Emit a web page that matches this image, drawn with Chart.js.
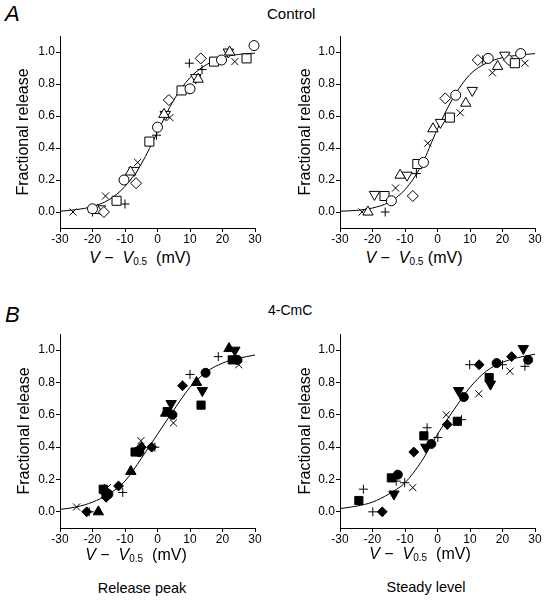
<!DOCTYPE html>
<html lang="en">
<head>
<meta charset="utf-8">
<title>Fractional release vs V - V0.5</title>
<script src="https://cdn.jsdelivr.net/npm/chart.js@4.4.1/dist/chart.umd.min.js"></script>
<style>
  * { margin: 0; padding: 0; box-sizing: border-box; }
  body {
    width: 549px; height: 602px; position: relative; overflow: hidden;
    background: #fff; color: #000;
    font-family: "Liberation Sans", Arial, sans-serif;
  }
  canvas { position: absolute; }
  .lbl { position: absolute; white-space: nowrap; line-height: 1; }
  .letter { font-style: italic; font-size: 22px; }
  .head { font-size: 15px; }
  .xtitle { font-size: 16px; width: 160px; text-align: center; }
  .xtitle sub { font-size: 10px; vertical-align: -2px; }
  .foot { font-size: 14.5px; width: 140px; text-align: center; }
</style>
</head>
<body>
  <div class="lbl letter" style="left:5px; top:3px;">A</div>
  <div class="lbl head" style="left:267px; top:6px;">Control</div>
  <div class="lbl letter" style="left:5px; top:304px;">B</div>
  <div class="lbl head" style="left:268px; top:303px; font-size:14px;">4-CmC</div>

  <canvas id="ctlPeak" width="270" height="228" style="left:0; top:20px;"></canvas>
  <canvas id="ctlSteady" width="269" height="228" style="left:280px; top:20px;"></canvas>
  <canvas id="cmcPeak" width="270" height="230" style="left:0; top:318px;"></canvas>
  <canvas id="cmcSteady" width="269" height="230" style="left:280px; top:318px;"></canvas>

  <div class="lbl xtitle" style="left:60px; top:250px;"><i>V</i> &minus;&nbsp; <i>V</i><sub>0.5</sub>&nbsp; (mV)</div>
  <div class="lbl xtitle" style="left:334px; top:250px;"><i>V</i> &minus;&nbsp; <i>V</i><sub>0.5</sub> (mV)</div>
  <div class="lbl xtitle" style="left:56px; top:547px;"><i>V</i> &minus;&nbsp; <i>V</i><sub>0.5</sub>&nbsp; (mV)</div>
  <div class="lbl xtitle" style="left:340px; top:546px;"><i>V</i> &minus;&nbsp; <i>V</i><sub>0.5</sub>&nbsp; (mV)</div>

  <div class="lbl foot" style="left:72px; top:581px;">Release peak</div>
  <div class="lbl foot" style="left:356px; top:580px;">Steady level</div>

<script>
  // x ticks / y ticks
  const xTicks = [-30, -20, -10, 0, 10, 20, 30];
  const yTicks = [0, 0.2, 0.4, 0.6, 0.8, 1.0];

  // voltages at which the fitted curves were read
  const curveV = [-30, -25, -20, -15, -10, -5, 0, 5, 10, 15, 20, 25, 30];

  // Control, release peak (open symbols) [V - V0.5, fraction]
  const ctlPeakCircle = [[-20, 0.02], [-10.3, 0.2], [0, 0.53], [10, 0.77], [19.7, 0.95], [29.7, 1.04]];
  const ctlPeakSquare = [[-12.6, 0.07], [-2.5, 0.44], [7.4, 0.76], [17.4, 0.94], [27.4, 0.96]];
  const ctlPeakDiamond = [[-16.5, 0.0], [-6.6, 0.18], [3.5, 0.7], [13.3, 0.96]];
  const ctlPeakUp = [[-18.5, 0.01], [-8.3, 0.25], [2.0, 0.61], [12.5, 0.83], [22.2, 1.0]];
  const ctlPeakDown = [[-17.6, 0.02], [-7.2, 0.26], [2.4, 0.61], [11.8, 0.84], [21.8, 1.0]];
  const ctlPeakPlus = [[-20, 0.0], [-10, 0.05], [-0.3, 0.48], [9.8, 0.93], [13.7, 0.89]];
  const ctlPeakCross = [[-26, 0.0], [-16, 0.1], [-6.1, 0.31], [3.8, 0.59], [23.8, 0.94]];
  const ctlPeakCurve = [0.005, 0.015, 0.034, 0.076, 0.16, 0.3, 0.5, 0.7, 0.84, 0.92, 0.965, 0.985, 0.993];

  // Control, steady level
  const ctlSteadyCircle = [[-14.2, 0.07], [-4.3, 0.31], [5.6, 0.73], [15.6, 0.96], [25.6, 0.99]];
  const ctlSteadySquare = [[-16.3, 0.1], [-6.2, 0.3], [3.8, 0.59], [23.8, 0.93]];
  const ctlSteadyDiamond = [[-7.6, 0.1], [2.4, 0.71], [12.4, 0.95], [22, 0.95]];
  const ctlSteadyUp = [[-21.4, 0.0], [-11.5, 0.23], [-1.4, 0.52], [8.7, 0.68], [18.5, 0.91]];
  const ctlSteadyDown = [[-19.4, 0.11], [-9.4, 0.23], [0.9, 0.56], [10.7, 0.76], [20.7, 0.98]];
  const ctlSteadyPlus = [[-16.1, 0.0], [-6.5, 0.24], [13.9, 0.95]];
  const ctlSteadyCross = [[-23.2, 0.0], [-12.9, 0.15], [-3.0, 0.43], [7.0, 0.62], [16.9, 0.87], [26.9, 0.93]];
  const ctlSteadyCurve = [0.005, 0.01, 0.025, 0.06, 0.14, 0.29, 0.52, 0.72, 0.86, 0.93, 0.965, 0.98, 0.99];

  // 4-CmC, release peak (filled symbols)
  const cmcPeakCircle = [[-15.1, 0.11], [-5.6, 0.37], [4.6, 0.6], [14.8, 0.86], [24.6, 0.94]];
  const cmcPeakSquare = [[-16.7, 0.14], [-6.9, 0.37], [3.0, 0.62], [13.4, 0.66], [23, 0.94]];
  const cmcPeakDiamond = [[-21.8, 0.0], [-15.8, 0.09], [-12, 0.16], [-5, 0.4], [-1.8, 0.4], [7.7, 0.78]];
  const cmcPeakUp = [[-18.2, 0.0], [-8.2, 0.25], [2.5, 0.61], [12, 0.8], [22, 1.01]];
  const cmcPeakDown = [[-16, 0.1], [-5.3, 0.38], [4.2, 0.67], [13.8, 0.75], [23.8, 1.0]];
  const cmcPeakPlus = [[-21, 0.0], [-10.7, 0.12], [-0.8, 0.4], [10, 0.85], [18.7, 0.96]];
  const cmcPeakCross = [[-24.9, 0.03], [-15.4, 0.15], [-5.1, 0.44], [4.9, 0.55], [25, 0.91]];
  const cmcPeakCurve = [0.015, 0.03, 0.06, 0.11, 0.19, 0.33, 0.48, 0.63, 0.77, 0.865, 0.92, 0.95, 0.97];

  // 4-CmC, steady level
  const cmcSteadyCircle = [[-12.2, 0.23], [-1.9, 0.42], [8.1, 0.71], [18.2, 0.92], [27.9, 0.94]];
  const cmcSteadySquare = [[-24.2, 0.07], [-14.2, 0.21], [-4.2, 0.47], [6.1, 0.56], [15.9, 0.83]];
  const cmcSteadyDiamond = [[-17, 0.0], [-7.3, 0.37], [3.0, 0.54], [12.8, 0.91], [22.8, 0.96]];
  const cmcSteadyUp = [];
  const cmcSteadyDown = [[-13.4, 0.11], [-3.6, 0.4], [6.5, 0.75], [16.3, 0.79], [26.4, 1.01]];
  const cmcSteadyPlus = [[-22.8, 0.14], [-19.9, 0.0], [-12.7, 0.19], [-10.1, 0.18], [-3.2, 0.52], [0.1, 0.46], [7.4, 0.57], [9.9, 0.91], [20, 0.91], [26.9, 0.9]];
  const cmcSteadyCross = [[-7.6, 0.15], [2.7, 0.6], [12.7, 0.73], [22.3, 0.87]];
  const cmcSteadyCurve = [0.02, 0.035, 0.06, 0.11, 0.18, 0.31, 0.48, 0.63, 0.77, 0.87, 0.925, 0.955, 0.975];

  const fontFamily = '"Liberation Sans", Arial, sans-serif';
  const toPts = arr => arr.map(p => ({ x: p[0], y: p[1] }));

  function markerSet(style, radius, rotation, pts, filled) {
    return {
      data: toPts(pts),
      pointStyle: style,
      pointRadius: radius,
      pointRotation: rotation,
      pointBackgroundColor: filled ? '#000' : '#fff',
      pointBorderColor: '#000',
      pointBorderWidth: 1,
      showLine: false,
      clip: false,
      order: 1
    };
  }

  function makePanel(id, sets, curve, filled, titlePad) {
    const c = document.getElementById(id);
    const fr = filled ? 0.9 : 1;
    const datasets = [
      markerSet('circle', 5 * fr, 0, sets[0], filled),
      markerSet('rect', 6.4 * fr, 0, sets[1], filled),
      markerSet('rectRot', 5.5 * fr, 0, sets[2], filled),
      markerSet('triangle', 6, 0, sets[3], filled),
      markerSet('triangle', 6, 180, sets[4], filled),
      markerSet('cross', 4.5, 0, sets[5], filled),
      markerSet('crossRot', 5, 0, sets[6], filled),
      {
        data: curveV.map((v, i) => ({ x: v, y: curve[i] })),
        showLine: true,
        borderColor: '#000',
        borderWidth: 1,
        pointRadius: 0,
        cubicInterpolationMode: 'monotone',
        clip: false,
        order: 10
      }
    ];
    new Chart(c, {
      type: 'scatter',
      data: { datasets: datasets },
      options: {
        responsive: false,
        devicePixelRatio: 1,
        animation: false,
        layout: { padding: { left: 0, top: 16, right: c.width - 255, bottom: 0 } },
        plugins: { legend: { display: false }, tooltip: { enabled: false } },
        scales: {
          x: {
            type: 'linear', min: -30, max: 30,
            afterBuildTicks: s => { s.ticks = xTicks.map(v => ({ value: v })); },
            afterFit: s => { s.height = 20; },
            ticks: { padding: 0, color: '#000', font: { family: fontFamily, size: 12 } },
            grid: { drawOnChartArea: false, tickLength: 4, color: '#000' },
            border: { color: '#000', width: 1 }
          },
          y: {
            type: 'linear', min: -0.1, max: 1.1,
            afterBuildTicks: s => { s.ticks = yTicks.map(v => ({ value: v })); },
            afterFit: s => { s.width = 60; },
            ticks: { padding: 1, color: '#000', font: { family: fontFamily, size: 12 },
                     callback: v => v.toFixed(1) },
            grid: { drawOnChartArea: false, tickLength: 4, color: '#000' },
            border: { color: '#000', width: 1 },
            title: { display: true, text: 'Fractional release', color: '#000',
                     font: { family: fontFamily, size: 16 }, padding: { top: titlePad, bottom: 0 } }
          }
        }
      }
    });
  }

  makePanel('ctlPeak', [ctlPeakCircle, ctlPeakSquare, ctlPeakDiamond, ctlPeakUp, ctlPeakDown, ctlPeakPlus, ctlPeakCross], ctlPeakCurve, false, 14);
  makePanel('ctlSteady', [ctlSteadyCircle, ctlSteadySquare, ctlSteadyDiamond, ctlSteadyUp, ctlSteadyDown, ctlSteadyPlus, ctlSteadyCross], ctlSteadyCurve, false, 16);
  makePanel('cmcPeak', [cmcPeakCircle, cmcPeakSquare, cmcPeakDiamond, cmcPeakUp, cmcPeakDown, cmcPeakPlus, cmcPeakCross], cmcPeakCurve, true, 15);
  makePanel('cmcSteady', [cmcSteadyCircle, cmcSteadySquare, cmcSteadyDiamond, cmcSteadyUp, cmcSteadyDown, cmcSteadyPlus, cmcSteadyCross], cmcSteadyCurve, true, 16);
</script>
</body>
</html>
